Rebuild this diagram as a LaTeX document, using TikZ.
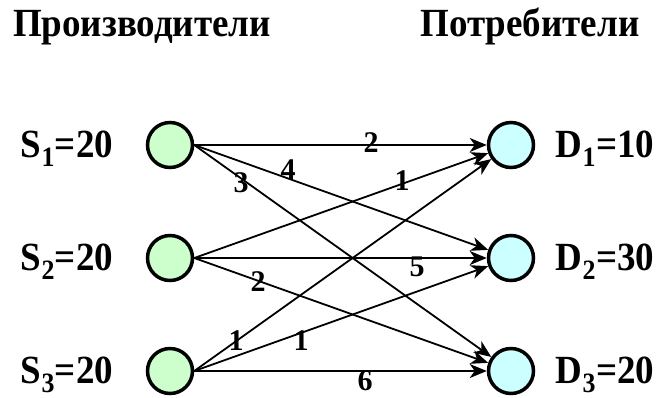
\documentclass[tikz,border=0pt]{standalone}
\usepackage{fontspec}
\setmainfont{Liberation Serif}
\usetikzlibrary{arrows.meta}
\definecolor{srcfill}{HTML}{CCFFCC}
\definecolor{dstfill}{HTML}{CCFFFF}
\newcommand{\tallbf}[1]{\scalebox{1}[1.08]{#1}}
\tikzset{
  vert/.style={circle, draw=black, line width=3.5pt, minimum size=45pt, inner sep=0pt},
  src/.style={vert, fill=srcfill},
  dst/.style={vert, fill=dstfill},
  flow/.style={line width=1.8pt, -{Stealth[length=17pt, width=14pt, inset=5pt]}},
  title/.style={font=\fontsize{37}{40}\selectfont\bfseries, anchor=base},
  amount/.style={font=\fontsize{37}{40}\selectfont\bfseries, anchor=base},
  cost/.style={font=\fontsize{30}{32}\selectfont\bfseries, inner sep=0pt}
}
\begin{document}
\begin{tikzpicture}[x=1pt, y=-1pt]
\useasboundingbox (0,0) rectangle (660,397);
\node[title] (tp) at (142,36) {\tallbf{Производители}};
\node[title] (tc) at (530,36) {\tallbf{Потребители}};

\node[src] (s1) at (170,145) {};
\node[src] (s2) at (170,258) {};
\node[src] (s3) at (170,371) {};
\node[dst] (d1) at (511,145) {};
\node[dst] (d2) at (511,258) {};
\node[dst] (d3) at (511,371) {};

\node[amount] (ls1) at (67,157) {\tallbf{S\textsubscript{1}=20}};
\node[amount] (ls2) at (67,270) {\tallbf{S\textsubscript{2}=20}};
\node[amount] (ls3) at (67,383) {\tallbf{S\textsubscript{3}=20}};
\node[amount] (ld1) at (605,157) {\tallbf{D\textsubscript{1}=10}};
\node[amount] (ld2) at (605,270) {\tallbf{D\textsubscript{2}=30}};
\node[amount] (ld3) at (605,383) {\tallbf{D\textsubscript{3}=20}};

\foreach \s in {1,2,3}{
  \foreach \d in {1,2,3}{
    \draw[flow] (s\s.east) -- (d\d);
  }
}

\node[cost] (c11) at (371,143) {2};
\node[cost] (c12) at (288,170) {4};
\node[cost] (c13) at (241,183) {3};
\node[cost] (c21) at (402,181) {1};
\node[cost] (c22) at (417,267) {5};
\node[cost] (c23) at (258,282) {2};
\node[cost] (c31) at (236,341) {1};
\node[cost] (c32) at (301,341) {1};
\node[cost] (c33) at (365,381) {6};
\end{tikzpicture}
\end{document}
